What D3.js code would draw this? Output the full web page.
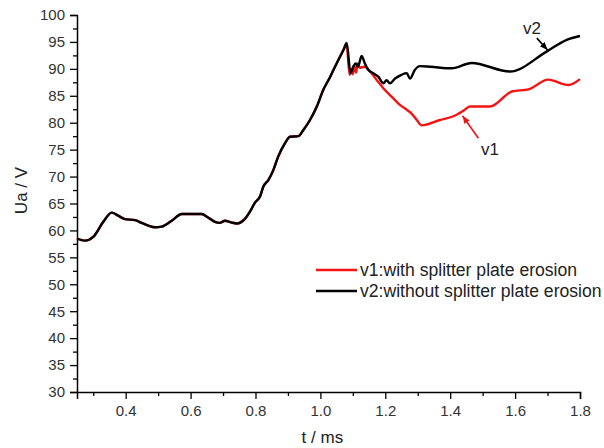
<!DOCTYPE html>
<html>
<head>
<meta charset="utf-8">
<script src="https://cdn.jsdelivr.net/npm/d3@7"></script>
<style>
  body { margin: 0; background: #fff; }
  text { font-family: "Liberation Sans", Arial, sans-serif; }
</style>
</head>
<body>
<svg id="chart" width="604" height="448"></svg>
<script>
// Arc voltage Ua vs time, with / without splitter plate erosion.

const tV1 = [0.25, 0.275, 0.30, 0.33, 0.357, 0.375, 0.398, 0.429, 0.449, 0.47, 0.49, 0.511, 0.542, 0.573, 0.634, 0.654, 0.675, 0.69, 0.706, 0.725, 0.742, 0.768, 0.783, 0.799, 0.814, 0.824, 0.84, 0.855, 0.87, 0.891, 0.906, 0.932, 0.947, 0.968, 0.989, 1.009, 1.03, 1.05, 1.071, 1.081,
  1.09, 1.095, 1.10, 1.105, 1.11, 1.115, 1.121, 1.137, 1.153, 1.174, 1.194, 1.22, 1.245, 1.266, 1.281, 1.297, 1.312, 1.369, 1.41, 1.44, 1.461, 1.523, 1.59, 1.641, 1.702, 1.764, 1.8];
const v1 = [58.5, 58.1, 58.8, 61.5, 63.3, 62.8, 62.1, 61.9, 61.4, 60.9, 60.6, 60.7, 61.8, 63.05, 63.05, 62.4, 61.6, 61.4, 61.8, 61.5, 61.3, 62.2, 63.5, 65.2, 66.3, 68.1, 69.4, 71.2, 73.7, 76.2, 77.4, 77.5, 78.6, 80.5, 83, 86.1, 88.5, 91, 93.5, 94.5,
  88.9, 90, 89, 90.5, 89.3, 91, 90.2, 90.4, 89.5, 87.9, 86.4, 84.8, 83.3, 82.4, 81.7, 80.5, 79.5, 80.5, 81.2, 82.2, 83, 83, 85.8, 86.2, 88, 87, 88.1];

const tV2 = [0.25, 0.275, 0.30, 0.33, 0.357, 0.375, 0.398, 0.429, 0.449, 0.47, 0.49, 0.511, 0.542, 0.573, 0.634, 0.654, 0.675, 0.69, 0.706, 0.725, 0.742, 0.768, 0.783, 0.799, 0.814, 0.824, 0.84, 0.855, 0.87, 0.891, 0.906, 0.932, 0.947, 0.968, 0.989, 1.009, 1.03, 1.05, 1.071, 1.081,
  1.093, 1.101, 1.109, 1.116, 1.127, 1.137, 1.148, 1.163, 1.179, 1.194, 1.204, 1.214, 1.23, 1.25, 1.266, 1.276, 1.291, 1.307, 1.338, 1.405, 1.466, 1.584, 1.697, 1.759, 1.8];
const v2 = [58.5, 58.1, 58.8, 61.5, 63.3, 62.8, 62.1, 61.9, 61.4, 60.9, 60.6, 60.7, 61.8, 63.05, 63.05, 62.4, 61.6, 61.4, 61.8, 61.5, 61.3, 62.2, 63.5, 65.2, 66.3, 68.1, 69.4, 71.2, 73.7, 76.2, 77.4, 77.5, 78.6, 80.5, 83, 86.1, 88.5, 91, 93.5, 94.8,
  89.2, 90.4, 91, 90.4, 92.4, 91, 89.8, 89.2, 88.5, 87.3, 87.9, 87.3, 88.2, 88.9, 89.2, 88.2, 89.8, 90.5, 90.4, 90.1, 91.1, 89.5, 93.2, 95.4, 96.1];

const xMajorTicks = [0.4, 0.6, 0.8, 1.0, 1.2, 1.4, 1.6, 1.8];
const xMinorTicks = [0.3, 0.5, 0.7, 0.9, 1.1, 1.3, 1.5, 1.7];
const yMajorTicks = [30, 35, 40, 45, 50, 55, 60, 65, 70, 75, 80, 85, 90, 95, 100];
const yMinorTicks = [32.5, 37.5, 42.5, 47.5, 52.5, 57.5, 62.5, 67.5, 72.5, 77.5, 82.5, 87.5, 92.5, 97.5];

const legendLabels = ["v1:with splitter plate erosion", "v2:without splitter plate erosion"];
// annotation arrows in data units: [tFrom, vFrom, tTo, vTo]
const arrowV1 = [1.487, 77.1, 1.438, 81.3];
const arrowV2 = [1.667, 95.7, 1.700, 93.5];
const labelV1 = [1.495, 74.0];
const labelV2 = [1.624, 96.4];

const svg = d3.select("#chart");
const margin = { top: 15, right: 24, bottom: 56, left: 77 };
const width = 604, height = 448;

const x = d3.scaleLinear().domain([0.25, 1.8]).range([margin.left, width - margin.right]);
const y = d3.scaleLinear().domain([30, 100]).range([height - margin.bottom, margin.top]);

const red = "#f41414";

const defs = svg.append("defs");
[["arrRed", red], ["arrBlack", "#000"]].forEach(([id, c]) => {
  defs.append("marker")
    .attr("id", id)
    .attr("viewBox", "0 0 10 10")
    .attr("refX", 10).attr("refY", 5)
    .attr("markerWidth", 8).attr("markerHeight", 8)
    .attr("markerUnits", "userSpaceOnUse")
    .attr("orient", "auto")
    .append("path").attr("d", "M0,1 L10,5 L0,9 Z").attr("fill", c);
});

// axes
svg.append("g")
  .attr("transform", `translate(0,${height - margin.bottom})`)
  .call(d3.axisBottom(x).tickValues(xMajorTicks).tickSize(7).tickPadding(6).tickFormat(d3.format(".1f")));
svg.append("g")
  .attr("transform", `translate(0,${height - margin.bottom})`)
  .call(d3.axisBottom(x).tickValues(xMinorTicks).tickSize(4).tickFormat(""))
  .select(".domain").remove();

svg.append("g")
  .attr("transform", `translate(${margin.left},0)`)
  .call(d3.axisLeft(y).tickValues(yMajorTicks).tickSize(7).tickPadding(5));
svg.append("g")
  .attr("transform", `translate(${margin.left},0)`)
  .call(d3.axisLeft(y).tickValues(yMinorTicks).tickSize(4).tickFormat(""))
  .select(".domain").remove();

svg.selectAll(".domain").attr("stroke", "#000").attr("stroke-width", 1.5);
svg.selectAll(".tick line").attr("stroke", "#000").attr("stroke-width", 1.3);
svg.selectAll(".tick text").attr("font-size", 15).attr("fill", "#333")
  .attr("font-family", "'Liberation Sans', Arial, sans-serif");

svg.append("text")
  .attr("x", x(1.0) + 2).attr("y", 443)
  .attr("text-anchor", "middle").attr("font-size", 17).attr("fill", "#222")
  .text("t / ms");
svg.append("text")
  .attr("transform", `translate(27,${(margin.top + height - margin.bottom) / 2 - 13}) rotate(-90)`)
  .attr("text-anchor", "middle").attr("font-size", 17).attr("fill", "#222")
  .text("Ua / V");

// curves
const line = d3.line().x(d => x(d[0])).y(d => y(d[1])).curve(d3.curveMonotoneX);
svg.append("path")
  .datum(tV1.map((t, i) => [t, v1[i]]))
  .attr("d", line).attr("fill", "none")
  .attr("stroke", red).attr("stroke-width", 2.4).attr("stroke-linejoin", "round");
svg.append("path")
  .datum(tV2.map((t, i) => [t, v2[i]]))
  .attr("d", line).attr("fill", "none")
  .attr("stroke", "#000").attr("stroke-width", 2.4).attr("stroke-linejoin", "round");

// annotations
svg.append("line")
  .attr("x1", x(arrowV1[0])).attr("y1", y(arrowV1[1]))
  .attr("x2", x(arrowV1[2])).attr("y2", y(arrowV1[3]))
  .attr("stroke", red).attr("stroke-width", 1.6).attr("marker-end", "url(#arrRed)");
svg.append("line")
  .attr("x1", x(arrowV2[0])).attr("y1", y(arrowV2[1]))
  .attr("x2", x(arrowV2[2])).attr("y2", y(arrowV2[3]))
  .attr("stroke", "#000").attr("stroke-width", 1.6).attr("marker-end", "url(#arrBlack)");
svg.append("text")
  .attr("x", x(labelV1[0])).attr("y", y(labelV1[1]))
  .attr("font-size", 17).attr("fill", "#222").text("v1");
svg.append("text")
  .attr("x", x(labelV2[0])).attr("y", y(labelV2[1]))
  .attr("font-size", 17).attr("fill", "#222").text("v2");

// legend
const legend = svg.append("g").attr("transform", "translate(316,270)");
legendLabels.forEach((label, i) => {
  const g = legend.append("g").attr("transform", `translate(0,${i * 21})`);
  g.append("line").attr("x1", 0).attr("x2", 41).attr("y1", 0).attr("y2", 0)
    .attr("stroke", i === 0 ? red : "#000").attr("stroke-width", 2.6);
  g.append("text").attr("x", 44).attr("y", 6)
    .attr("font-size", 17.6).attr("fill", "#222").text(label);
});
</script>
</body>
</html>
